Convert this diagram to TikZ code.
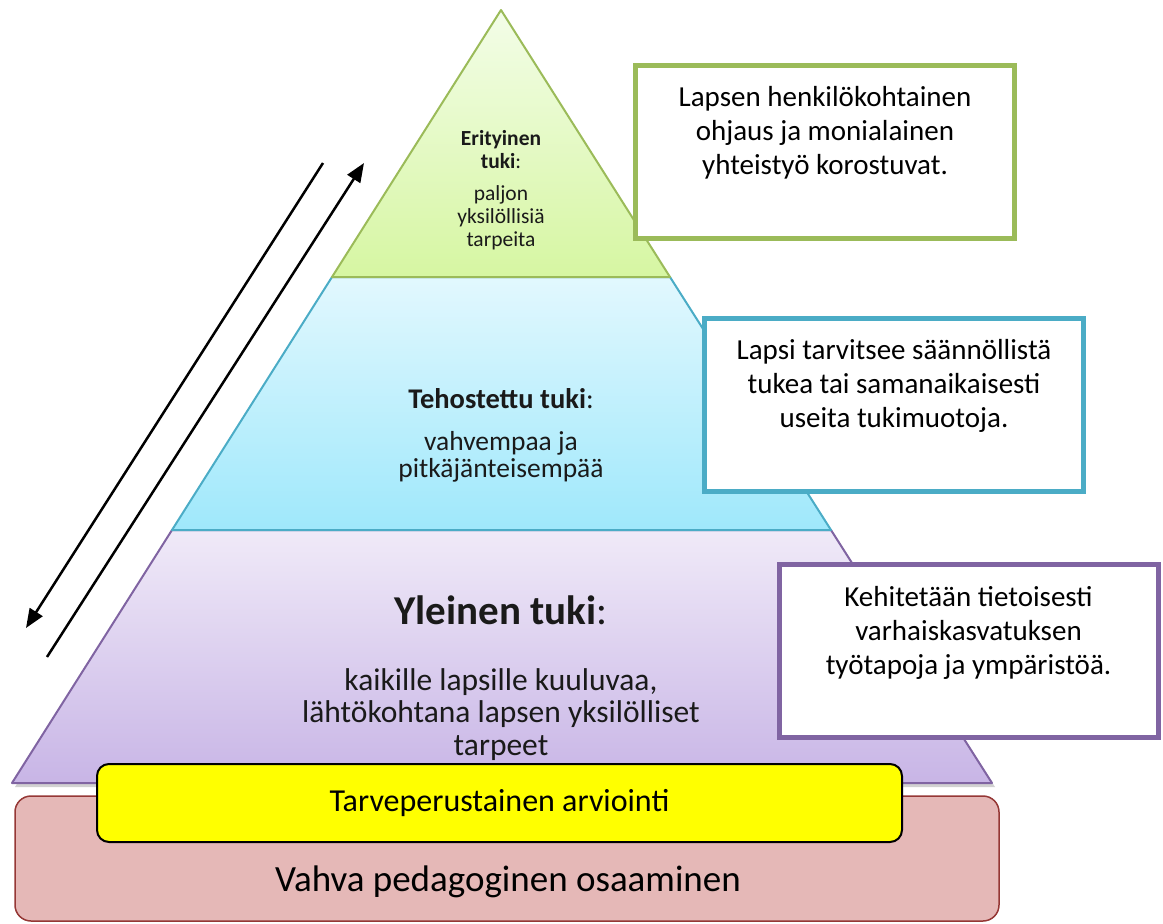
\documentclass[tikz,border=0pt]{standalone}
\usepackage{fontspec}
\setmainfont{Carlito}
\usetikzlibrary{arrows.meta,shadows}
\definecolor{grnline}{HTML}{9BBB59}
\definecolor{grntop}{HTML}{F3FDE8}
\definecolor{grnbot}{HTML}{D6F6A2}
\definecolor{blueline}{HTML}{4BACC6}
\definecolor{bluetop}{HTML}{E2F8FE}
\definecolor{bluebot}{HTML}{9FE8FB}
\definecolor{purpline}{HTML}{8064A2}
\definecolor{purptop}{HTML}{F0EAF8}
\definecolor{purpbot}{HTML}{C8B5E6}
\definecolor{pinkfill}{HTML}{E5B8B7}
\definecolor{pinkline}{HTML}{953735}
\definecolor{yel}{HTML}{FFFF00}
\definecolor{txt}{HTML}{1A1A1A}
\tikzset{
  tier/.style={line width=2pt, line join=round},
  infobox/.style={draw, fill=white, line width=5pt, minimum width=379pt, minimum height=173pt, inner sep=0pt},
  boxtext/.style={align=center, font=\fontsize{29}{34}\selectfont, text=black},
  arrowline/.style={line width=2.5pt, -{Triangle[length=19pt,width=15pt]}},
}
\begin{document}
\begin{tikzpicture}[x=1pt,y=-1pt]
\useasboundingbox (0,0) rectangle (1163,924);
% pyramid
\draw[tier, draw=purpline, top color=purptop, bottom color=purpbot,
  drop shadow={shadow xshift=3pt, shadow yshift=-4pt, opacity=0.3, fill=black!60}]
  (172,530) -- (831,530) -- (992,783) -- (12,783) -- cycle;
\draw[tier, draw=blueline, top color=bluetop, bottom color=bluebot]
  (332,277) -- (670,277) -- (831,530) -- (172,530) -- cycle;
\draw[tier, draw=grnline, top color=grntop, bottom color=grnbot]
  (501,10) -- (670,277) -- (332,277) -- cycle;
% tier texts
\node[align=center, text=txt, font=\fontsize{21.5}{23}\selectfont] (tg) at (501,190)
  {\textbf{Erityinen}\\\textbf{tuki}:\\[9pt]paljon\\yksilöllisiä\\tarpeita};
\node[align=center, text=txt, font=\fontsize{27.5}{27}\selectfont] (tb) at (501,435)
  {{\fontsize{28.5}{28}\selectfont\textbf{Tehostettu tuki}:}\\[15pt]vahvempaa ja\\pitkäjänteisempää};
\node[align=center, text=txt, font=\fontsize{31.5}{32.5}\selectfont] (tp) at (501,678)
  {{\fontsize{41}{40}\selectfont\textbf{Yleinen tuki}:}\\[33pt]kaikille lapsille kuuluvaa,\\lähtökohtana lapsen yksilölliset\\tarpeet};
% base boxes
\node[draw=pinkline, fill=pinkfill, line width=1.5pt, rounded corners=16pt,
  minimum width=984pt, minimum height=125pt, inner sep=0pt] (base) at (507,858.5) {};
\node[font=\fontsize{37}{40}\selectfont, text=black] (basetext) at (508,882) {Vahva pedagoginen osaaminen};
\node[draw=black, fill=yel, line width=2pt, rounded corners=12pt,
  minimum width=805pt, minimum height=78pt, inner sep=0pt,
  font=\fontsize{32}{34}\selectfont] (arv) at (499.5,803) {\raisebox{4pt}{Tarveperustainen arviointi}};
% right boxes
\node[infobox, draw=grnline] (b1) at (825,152) {};
\node[boxtext] (t1) at (825,133) {Lapsen henkilökohtainen\\ohjaus ja monialainen\\yhteistyö korostuvat.};
\node[infobox, draw=blueline] (b2) at (894,405) {};
\node[boxtext] (t2) at (894,386) {Lapsi tarvitsee säännöllistä\\tukea tai samanaikaisesti\\useita tukimuotoja.};
\node[infobox, draw=purpline] (b3) at (968.5,650.5) {};
\node[boxtext] (t3) at (968.5,633) {Kehitetään tietoisesti\\varhaiskasvatuksen\\työtapoja ja ympäristöä.};
% arrows
\coordinate (d1) at (323,163);
\coordinate (d2) at (26,628);
\coordinate (u1) at (47,657);
\coordinate (u2) at (364,163);
\draw[arrowline] (d1) -- (d2);
\draw[arrowline] (u1) -- (u2);
\end{tikzpicture}
\end{document}
